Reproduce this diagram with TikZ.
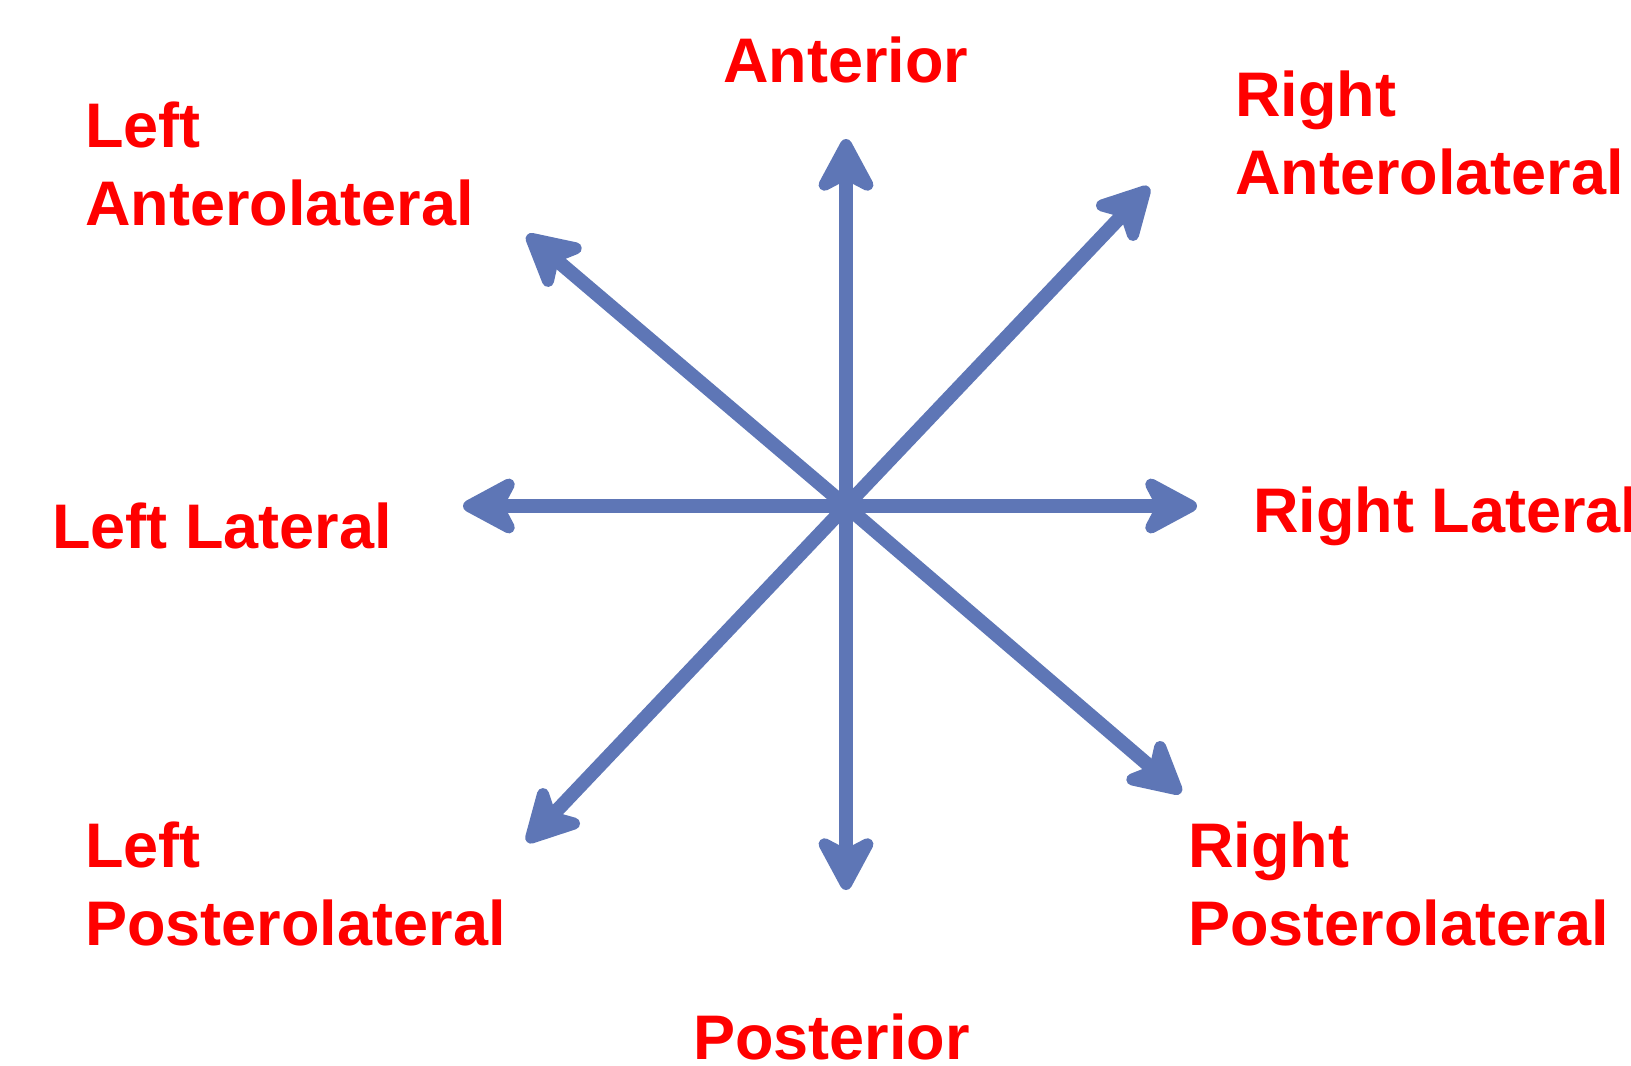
\documentclass[tikz,border=0pt]{standalone}
\usepackage{fontspec}
\setmainfont{Liberation Sans}
\usepackage{tikz}
\usetikzlibrary{arrows.meta,positioning}
\usepackage{xcolor}
\definecolor{axisblue}{RGB}{94,118,182}
\definecolor{labelred}{RGB}{255,0,0}

\begin{document}
\begin{tikzpicture}[x=0.5pt,y=-0.5pt,>={Stealth[length=33pt,width=35pt,inset=9pt,round]},
  every node/.style={font=\bfseries\fontsize{31.5pt}{39pt}\selectfont,text=labelred,inner sep=0pt}]
\tikzstyle{lbl}=[anchor=base west,align=left]
\tikzstyle{dirarrow}=[->,draw=axisblue,line width=7pt,line cap=round]
\useasboundingbox (0,0) rectangle (1631,1065);
% centre and arrow tips
\coordinate (c) at (846,506);
\coordinate (ant) at (846,139);
\coordinate (post) at (846,890);
\coordinate (lat-l) at (463,506);
\coordinate (lat-r) at (1197,506);
\coordinate (al-l) at (527,235);
\coordinate (al-r) at (1149,187);
\coordinate (pl-l) at (527,842);
\coordinate (pl-r) at (1181,793);
\foreach \t in {ant,post,lat-l,lat-r,al-l,al-r,pl-l,pl-r}
  \draw[dirarrow] (c) -- (\t);
% labels (base = last line)
\node[lbl] (antlbl) at (723,83) {Anterior};
\node[lbl] (postlbl) at (693,1059) {Posterior};
\node[lbl] (latllbl) at (52,548) {Left Lateral};
\node[lbl] (latrlbl) at (1253,532) {Right Lateral};
\node[lbl] (alllbl) at (85,225) {Left\\Anterolateral};
\node[lbl] (alrlbl) at (1235,194) {Right\\Anterolateral};
\node[lbl] (pllbl) at (85,945) {Left\\Posterolateral};
\node[lbl] (prlbl) at (1188,945) {Right\\Posterolateral};
\end{tikzpicture}
\end{document}
